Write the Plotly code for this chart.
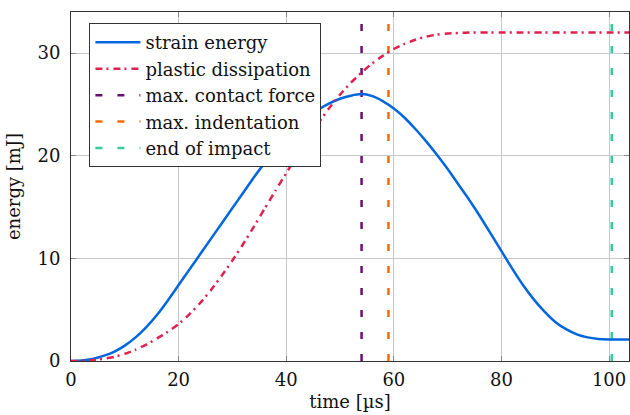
import plotly.graph_objects as go

# time axis [µs]
time = [0, 2, 4, 6, 8, 10, 12, 14, 16, 18, 20, 22, 24, 26, 28, 30, 32, 34, 36, 38,
        40, 42, 44, 46, 48, 50, 52, 54, 56, 58, 60, 62, 64, 66, 68, 70, 72, 74, 76, 78,
        80, 82, 84, 86, 88, 90, 92, 94, 96, 98, 100, 102, 104]

strain_energy = [0, 0.05, 0.2, 0.5, 0.9, 1.5, 2.3, 3.3, 4.5, 5.9, 7.4, 8.9, 10.4, 11.9, 13.4, 14.9,
                 16.4, 17.9, 19.3, 20.6, 21.8, 22.85, 23.75, 24.5, 25.1, 25.55, 25.85, 26.0, 25.8,
                 25.3, 24.6, 23.7, 22.6, 21.4, 20.1, 18.7, 17.2, 15.7, 14.1, 12.4, 10.7, 9.0, 7.4,
                 6.0, 4.8, 3.8, 3.1, 2.6, 2.3, 2.15, 2.1, 2.1, 2.1]

plastic_dissipation = [0, 0.02, 0.08, 0.2, 0.4, 0.7, 1.1, 1.6, 2.2, 2.85, 3.6, 4.55, 5.65, 6.9,
                       8.3, 9.8, 11.4, 13.1, 14.85, 16.6, 18.3, 20.0, 21.65, 23.2, 24.65, 25.95,
                       27.1, 28.1, 29.0, 29.75, 30.4, 30.9, 31.3, 31.6, 31.8, 31.9, 31.95, 32.0,
                       32.0, 32.0, 32.0, 32.0, 32.0, 32.0, 32.0, 32.0, 32.0, 32.0, 32.0, 32.0,
                       32.0, 32.0, 32.0]

event_names = ["max. contact force", "max. indentation", "end of impact"]
event_times = [54, 59, 100.5]
event_colors = ["#6a0f6e", "#ff6a00", "#33cc9f"]

x_ticks = [0, 20, 40, 60, 80, 100]
y_ticks = [0, 10, 20, 30]
x_range = [0, 103.7]
y_range = [0, 34]

FONT = "DejaVu Serif"

fig = go.Figure()

fig.add_trace(go.Scatter(
    x=time, y=strain_energy, mode="lines", name="strain energy", legendrank=1,
    line=dict(color="#0066dd", width=2.5, shape="spline", smoothing=0.5),
))
fig.add_trace(go.Scatter(
    x=time, y=plastic_dissipation, mode="lines", name="plastic dissipation", legendrank=2,
    line=dict(color="#e0204f", width=2.5, dash="7px,4px,2px,5px", shape="spline", smoothing=0.5),
))

for name, t, c, rank in zip(event_names, event_times, event_colors, [3, 4, 5]):
    fig.add_shape(
        type="line", xref="x", yref="paper", x0=t, x1=t, y0=0, y1=1,
        line=dict(color=c, width=2.5, dash="7px,15px"), layer="between",
        showlegend=True, name=name, legendrank=rank,
    )

axis_common = dict(
    showline=True, linecolor="#333333", linewidth=1, mirror="allticks",
    showgrid=True, gridcolor="#c8c8c8", gridwidth=1,
    ticks="inside", ticklen=5, tickcolor="#888888", tickwidth=1,
    tickfont=dict(family=FONT, size=18, color="#111111"),
    zeroline=False,
)

fig.update_layout(
    width=630, height=415,
    margin=dict(l=71, r=1, t=12, b=54),
    paper_bgcolor="white", plot_bgcolor="white",
    font=dict(family=FONT, size=18, color="#111111"),
    legend=dict(
        x=0.033, y=0.968, xanchor="left", yanchor="top",
        bgcolor="white", bordercolor="#333333", borderwidth=1,
        font=dict(family=FONT, size=18, color="#111111"),
        itemwidth=45, tracegroupgap=0,
    ),
    xaxis=dict(range=x_range, tickvals=x_ticks, ticklabelstandoff=2,
               title=dict(text="time [µs]", font=dict(family=FONT, size=18), standoff=6),
               **axis_common),
    yaxis=dict(range=y_range, tickvals=y_ticks, ticklabelstandoff=6,
               title=dict(text="energy [mJ]", font=dict(family=FONT, size=18), standoff=12),
               **axis_common),
    showlegend=True,
)

fig.write_html("out.html")
